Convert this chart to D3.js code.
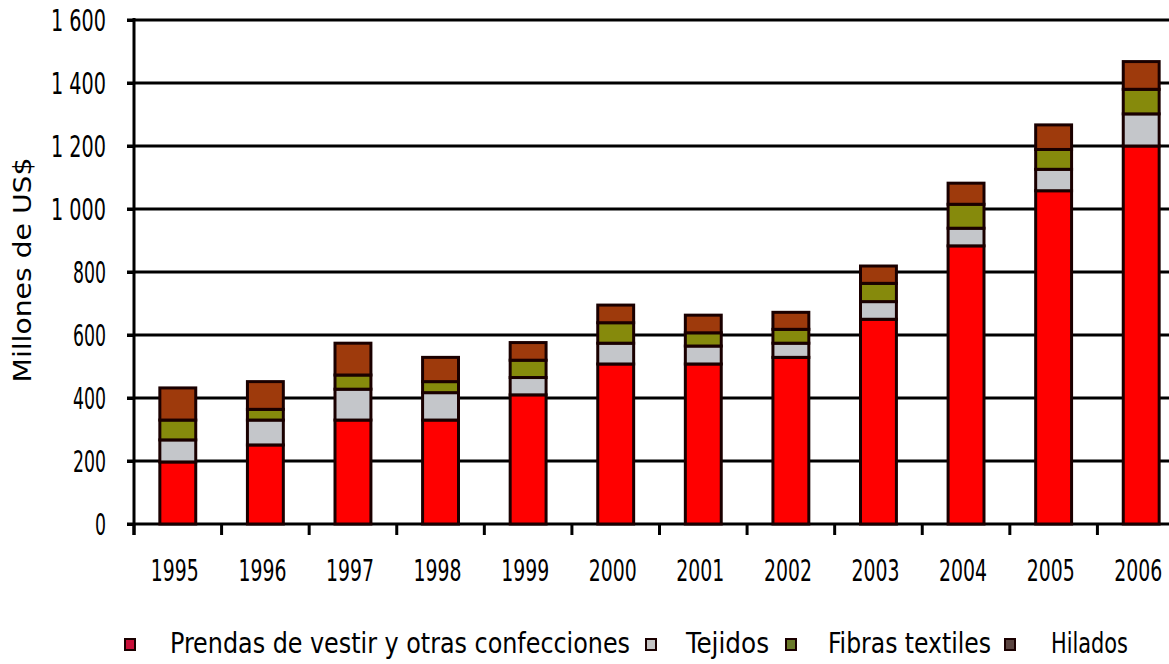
<!DOCTYPE html>
<html><head><meta charset="utf-8">
<script src="https://cdn.jsdelivr.net/npm/d3@7"></script>
<style>
html,body{margin:0;padding:0;background:#fff;overflow:hidden}
text{font-family:"Liberation Sans Narrow","DejaVu Sans Condensed","Liberation Sans",sans-serif;fill:#000}
</style></head>
<body><svg id="c" width="1169" height="664"></svg>
<script>
const years = ["1995","1996","1997","1998","1999","2000","2001","2002","2003","2004","2005","2006"];
const prendas = [197, 251, 330, 330, 410, 508, 508, 529, 650, 883, 1058, 1200];
const tejidos = [70, 79, 98, 87, 55, 66, 57, 45, 56, 56, 68, 102];
const fibras  = [63, 34, 45, 35, 55, 65, 42, 44, 58, 76, 63, 78];
const hilados = [102, 88, 101, 77, 56, 56, 56, 54, 55, 67, 78, 88];
const seriesNames = ["Prendas de vestir y otras confecciones", "Tejidos", "Fibras textiles", "Hilados"];
const yTicks = [0, 200, 400, 600, 800, 1000, 1200, 1400, 1600];
const yTitle = "Millones de US$";

const colors = ["#ff0000", "#c4c6ca", "#868a0c", "#9e3a0c"];
const legendColors = ["#c8103a", "#c4c4c4", "#6a7a2a", "#5a4440"];

const svg = d3.select("#c");
const x = d3.scaleBand().domain(years).range([134, 1185]).paddingInner(0.59).paddingOuter(0.295);
const y = d3.scaleLinear().domain([0, 1600]).range([524, 20]);

const table = years.map((yr, i) => ({year: yr, s0: prendas[i], s1: tejidos[i], s2: fibras[i], s3: hilados[i]}));
const stack = d3.stack().keys(["s0","s1","s2","s3"])(table);

// gridlines
svg.append("g").selectAll("line").data(yTicks).join("line")
  .attr("x1", 127).attr("x2", 1169)
  .attr("y1", d => y(d)).attr("y2", d => y(d))
  .attr("stroke", "#000").attr("stroke-width", 3);

// y axis
const fmt = d3.formatLocale({decimal: ",", thousands: " ", grouping: [3], currency: ["", ""]}).format(",d");
const yAxis = svg.append("g").attr("transform", "translate(134,0)")
  .call(d3.axisLeft(y).tickValues(yTicks).tickFormat(fmt).tickSize(7).tickPadding(21));
yAxis.select(".domain").attr("stroke", "#000").attr("stroke-width", 3).attr("d", "M0,18V535");
yAxis.selectAll(".tick line").attr("stroke", "#000").attr("stroke-width", 3);
yAxis.selectAll(".tick text").attr("font-size", 30).attr("fill", "#000").attr("dy", "0.36em")
  .attr("textLength", d => fmt(d).length * 11).attr("lengthAdjust", "spacingAndGlyphs")
  .style("font-family", '"Liberation Sans Narrow","DejaVu Sans Condensed",sans-serif');

// x axis ticks at band boundaries
const step = x.step();
const bounds = years.map(yr => x(yr) - step * 0.295);
svg.append("g").selectAll("line").data(bounds).join("line")
  .attr("x1", d => d).attr("x2", d => d).attr("y1", 524).attr("y2", 535)
  .attr("stroke", "#000").attr("stroke-width", 3);

// x labels (horizontally compressed via transform)
const xl = svg.append("g").selectAll("g").data(years).join("g");
xl.append("text").attr("x", 0).attr("y", 0)
  .attr("text-anchor", "middle").attr("font-size", 30)
  .text(d => d);
xl.each(function(d) {
  const t = d3.select(this).select("text").node();
  const len = t.getComputedTextLength() || 60;
  const s = 48 / len;
  d3.select(this).attr("transform", `translate(${x(d) + x.bandwidth() / 2 - 3},581) scale(${s},1)`);
});

// bars
svg.append("g").selectAll("g").data(stack).join("g")
  .attr("fill", (d, i) => colors[i])
  .selectAll("rect").data(d => d).join("rect")
  .attr("x", d => x(d.data.year))
  .attr("width", x.bandwidth())
  .attr("y", d => y(d[1]))
  .attr("height", d => y(d[0]) - y(d[1]))
  .attr("stroke", "#1a0000").attr("stroke-width", 3);

// y title
svg.append("text")
  .attr("transform", "translate(31,270) rotate(-90)")
  .attr("text-anchor", "middle").attr("font-size", 24)
  .attr("textLength", 225).attr("lengthAdjust", "spacingAndGlyphs")
  .text(yTitle);

// legend
const legSq = [125, 646, 786, 1005];
const legTx = [170, 686, 828, 1051];
const legLen = [460, 83, 163, 77];
const lg = svg.append("g");
seriesNames.forEach((name, i) => {
  lg.append("rect").attr("x", legSq[i]).attr("y", 639).attr("width", 10).attr("height", 11)
    .attr("fill", legendColors[i]).attr("stroke", "#1a0000").attr("stroke-width", 2);
  lg.append("text").attr("x", legTx[i]).attr("y", 653).attr("font-size", 28)
    .attr("textLength", legLen[i]).attr("lengthAdjust", "spacingAndGlyphs").text(name);
});
</script></body></html>
